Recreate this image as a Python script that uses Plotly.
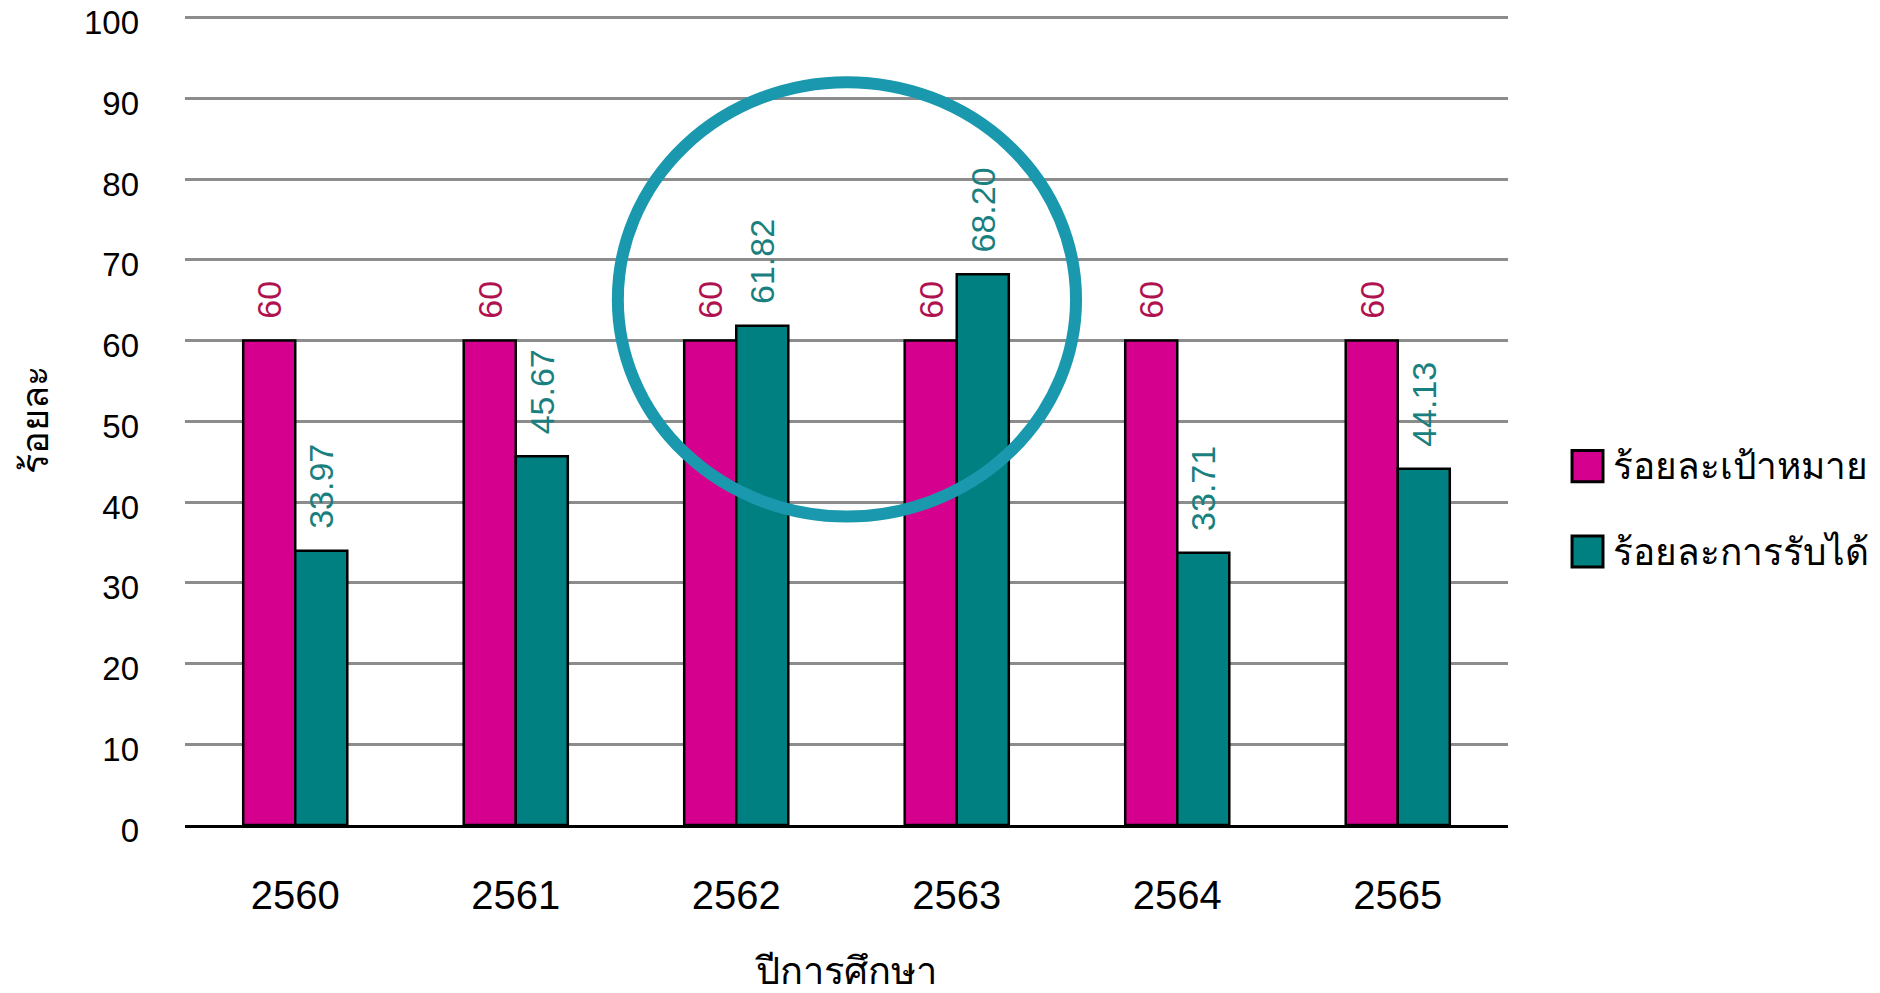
import plotly.graph_objects as go

years = ["2560", "2561", "2562", "2563", "2564", "2565"]
target = [60, 60, 60, 60, 60, 60]
admitted = [33.97, 45.67, 61.82, 68.20, 33.71, 44.13]
series_names = ["ร้อยละเป้าหมาย", "ร้อยละการรับได้"]
y_ticks = [0, 10, 20, 30, 40, 50, 60, 70, 80, 90, 100]

PINK = "#D6008F"
TEAL = "#008080"
PINK_LBL = "#B0124F"
TEAL_LBL = "#1A7F7F"
FONT = "Liberation Sans, Noto Sans, sans-serif"
PAD = "\u00a0\u00a0"

fig = go.Figure()
fig.add_trace(go.Bar(
    x=years, y=target, name=series_names[0],
    marker=dict(color=PINK, line=dict(color="black", width=2.5)),
    texttemplate=PAD + "%{y}", textposition="outside", textangle=-90,
    textfont=dict(color=PINK_LBL, size=34, family=FONT),
    constraintext="none", cliponaxis=False, showlegend=False,
))
fig.add_trace(go.Bar(
    x=years, y=admitted, name=series_names[1],
    marker=dict(color=TEAL, line=dict(color="black", width=2.5)),
    texttemplate=PAD + "%{y:.2f}", textposition="outside", textangle=-90,
    textfont=dict(color=TEAL_LBL, size=34, family=FONT),
    constraintext="none", cliponaxis=False, showlegend=False,
))

fig.update_layout(
    width=1880, height=993,
    margin=dict(l=185, r=372, t=16.4, b=168, autoexpand=False),
    paper_bgcolor="white", plot_bgcolor="white",
    barmode="group", bargap=0.528, bargroupgap=0,
    font=dict(family=FONT, color="black"),
    showlegend=False,
    xaxis=dict(
        type="category", range=[-0.5, 5.5],
        showline=True, linecolor="black", linewidth=3,
        showgrid=False, ticks="",
        tickfont=dict(size=40, color="black"),
        ticklabelstandoff=33,
        title=dict(text="ปีการศึกษา", font=dict(size=38), standoff=42),
        automargin=False,
    ),
    yaxis=dict(
        range=[0, 100.2], tickvals=y_ticks,
        showgrid=True, gridcolor="#8C8C8C", gridwidth=2.5,
        zeroline=False, showline=False, ticks="",
        tickfont=dict(size=33, color="black"),
        ticklabelstandoff=45, ticklabeloverflow="allow", ticklabelshift=5,
        title=dict(text="ร้อยละ", font=dict(size=38), standoff=23),
        automargin=False,
    ),
)

# highlight circle around 2562-2563
fig.add_shape(type="circle", xref="x", yref="y",
              x0=1.463, x1=3.541, y0=38.2, y1=92.0,
              line=dict(color="#1A98AE", width=12), layer="above")

# custom legend with large square swatches
legend_rows = [(0.4436, PINK), (0.338, TEAL)]
for (ypos, col), name in zip(legend_rows, series_names):
    fig.add_shape(type="rect", xref="paper", yref="paper",
                  x0=1.0484, x1=1.0718, y0=ypos - 0.0192, y1=ypos + 0.0192,
                  fillcolor=col, line=dict(color="black", width=3))
    fig.add_annotation(xref="paper", yref="paper", x=1.078, y=ypos,
                       xanchor="left", yanchor="middle", showarrow=False,
                       text=name, font=dict(size=37, color="black", family=FONT))

fig.write_html("out.html", config={"displayModeBar": False},
               post_script="document.body.style.margin='0';")
